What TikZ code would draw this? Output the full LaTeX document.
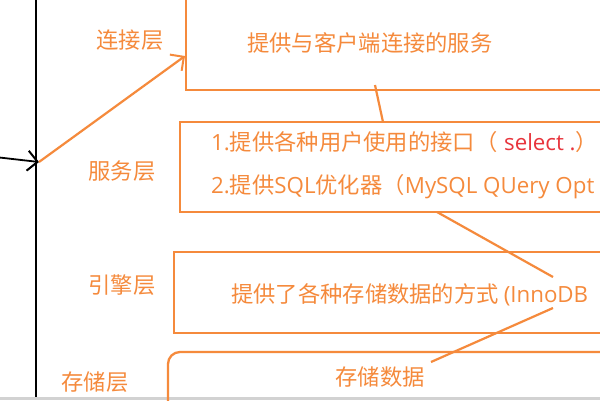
\documentclass[tikz,border=0pt]{standalone}
\usepackage{fontspec}
\setmainfont{Noto Sans CJK SC}
\newfontfamily\lat{Open Sans}
\usetikzlibrary{arrows.meta}
\definecolor{org}{HTML}{F58A3C}
\definecolor{redt}{HTML}{E8343C}
\tikzset{
  obox/.style={draw=org, line width=2.3pt},
  olab/.style={text=org, font=\fontsize{22.3}{26}\selectfont, inner sep=0pt},
  oline/.style={draw=org, line width=2.2pt},
  barb/.style={-{Straight Barb[length=10pt,width=20pt,line width=2pt]}}
}
\begin{document}
\begin{tikzpicture}[x=1pt,y=-1pt]
\useasboundingbox (0,0) rectangle (600,400);
\clip (0,0) rectangle (600,400);
\fill[white] (0,0) rectangle (600,400);
% gray strip
\fill[gray!35] (0,397) rectangle (600,400);
% boxes
\draw[obox] (186,-10) -- (186,90) -- (610,90);
\draw[obox] (610,122) -- (180,122) -- (180,212) -- (610,212);
\draw[obox] (610,252) -- (174,252) -- (174,333) -- (610,333);
\draw[obox, rounded corners=12pt] (168,410) -- (168,352) -- (610,352);
% text in boxes
\node[olab, anchor=west] (t1) at (247,43) {提供与客户端连接的服务};
\node[olab, anchor=west] (t2) at (211,142) {{\lat 1.}提供各种用户使用的接口（\hspace{0.3em}\textcolor{redt}{\lat select .}）};
\node[olab, anchor=west] (t3) at (211,187) {{\lat 2.}提供{\lat SQL}优化器（{\lat MySQL QUery Opt}};
\node[olab, anchor=west] (t4) at (231,295) {提供了各种存储数据的方式 {\lat (InnoDB}};
\node[olab] (t5) at (380,377) {存储数据};
% left labels
\node[olab] (l1) at (130,40) {连接层};
\node[olab] (l2) at (122,171) {服务层};
\node[olab] (l3) at (122,285) {引擎层};
\node[olab] (l4) at (95,382) {存储层};
% black axis
\coordinate (top) at (36,-5);
\coordinate (bot) at (36,397);
\coordinate (in) at (-5,157);
\coordinate (hit) at (39,162);
\draw[line width=2.2pt] (top) -- (bot);
\draw[line width=1.8pt, barb] (in) -- (hit);
% orange arrow
\coordinate (tip) at (185,56);
\draw[oline, barb] (hit) -- (tip);
% connector lines
\coordinate (a1) at (375,85);
\coordinate (a2) at (383,122);
\draw[oline] (a1) -- (a2);
\coordinate (b1) at (437,212);
\coordinate (b2) at (553,277);
\draw[oline] (b1) -- (b2);
\coordinate (c1) at (553,308);
\coordinate (c2) at (431,362);
\draw[oline] (c1) -- (c2);
\end{tikzpicture}
\end{document}
